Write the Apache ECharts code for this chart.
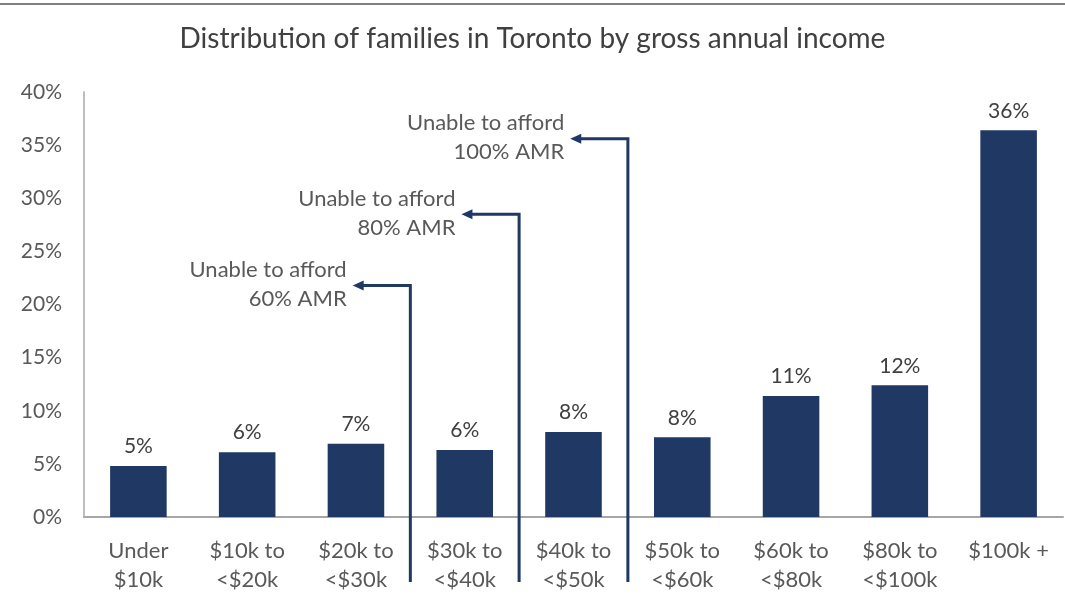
<!DOCTYPE html>
<html>
<head>
<meta charset="utf-8">
<script src="https://cdn.jsdelivr.net/npm/echarts@6/dist/echarts.min.js"></script>
<style>
  html, body { margin: 0; padding: 0; background: #fff; }
  #chart { width: 1065px; height: 605px; }
</style>
</head>
<body>
<div id="chart"></div>
<script>
const categories = ['Under\n$10k', '$10k to\n<$20k', '$20k to\n<$30k', '$30k to\n<$40k', '$40k to\n<$50k',
  '$50k to\n<$60k', '$60k to\n<$80k', '$80k to\n<$100k', '$100k +'];
const shares = [4.8, 6.1, 6.9, 6.3, 8.0, 7.5, 11.4, 12.4, 36.4];
const yTicks = [0, 5, 10, 15, 20, 25, 30, 35, 40];

// affordability thresholds: boundary between categories and arrow level (%)
const annoText = ['Unable to afford\n60% AMR', 'Unable to afford\n80% AMR', 'Unable to afford\n100% AMR'];
const annoBoundary = [2.5, 3.5, 4.5];
const annoLevel = [21.8, 28.5, 35.6];

const navy = '#203864';
const font = 'Lato, "Open Sans", sans-serif';

const chart = echarts.init(document.getElementById('chart'));
chart.setOption({
  animation: false,
  textStyle: { fontFamily: font },
  title: {
    text: 'Distribution of families in Toronto by gross annual income',
    left: 'center',
    top: 20,
    textStyle: { fontFamily: font, fontWeight: 'normal', fontSize: 28, color: '#404040' }
  },
  graphic: [{
    type: 'line',
    shape: { x1: 0, y1: 4, x2: 1065, y2: 4 },
    style: { stroke: '#808080', lineWidth: 2 }
  }],
  grid: { left: 84, right: 2, top: 92, bottom: 88 },
  xAxis: {
    type: 'category',
    data: categories,
    axisTick: { show: false },
    axisLine: { lineStyle: { color: '#a6a6a6', width: 2 } },
    axisLabel: { color: '#595959', fontSize: 22, lineHeight: 29, margin: 19, interval: 0 }
  },
  yAxis: {
    type: 'value',
    min: 0,
    max: 40,
    interval: 5,
    splitLine: { show: false },
    axisTick: { show: false },
    axisLine: { show: true, lineStyle: { color: '#bfbfbf', width: 2 } },
    axisLabel: {
      color: '#595959', fontSize: 21, margin: 22,
      formatter: v => yTicks.includes(v) ? v + '%' : ''
    }
  },
  series: [
    {
      type: 'bar',
      data: shares,
      barWidth: '52%',
      itemStyle: { color: navy },
      label: {
        show: true,
        position: 'top',
        distance: 9,
        color: '#404040',
        fontSize: 21,
        formatter: p => Math.round(p.value) + '%'
      }
    },
    {
      type: 'custom',
      clip: false,
      silent: true,
      z: 5,
      data: annoBoundary.map((b, i) => [b, annoLevel[i], i]),
      renderItem: (params, api) => {
        const i = api.value(2);
        const b = api.value(0);
        const left = Math.floor(b);
        const bandW = api.size([1, 0])[0];
        const c = api.coord([left, api.value(1)]);
        const base = api.coord([left, 0]);
        const x = c[0] + (b - left) * bandW;
        const y = c[1];
        const tipX = x - bandW * 0.53;
        const bottomY = base[1] + 65;
        return {
          type: 'group',
          children: [
            {
              type: 'polyline',
              shape: { points: [[x, bottomY], [x, y], [tipX + 8, y]] },
              style: { stroke: navy, lineWidth: 3, fill: null }
            },
            {
              type: 'polygon',
              shape: { points: [[tipX, y], [tipX + 11, y - 5], [tipX + 11, y + 5]] },
              style: { fill: navy }
            },
            {
              type: 'text',
              x: tipX - 6,
              y: y - 1,
              style: {
                text: annoText[i],
                fill: '#595959',
                font: '22px ' + font,
                align: 'right',
                verticalAlign: 'middle',
                lineHeight: 29
              }
            }
          ]
        };
      }
    }
  ]
});
</script>
</body>
</html>
